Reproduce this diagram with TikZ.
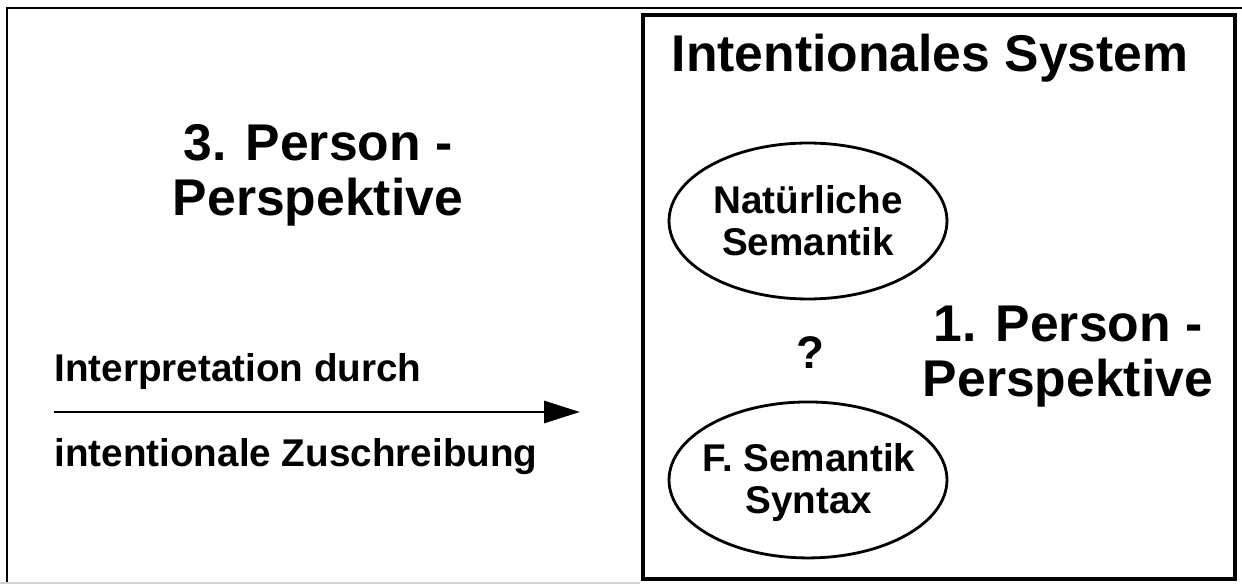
\documentclass[tikz,border=0pt]{standalone}
\usepackage{fontspec}
\setmainfont{Liberation Sans}
\usetikzlibrary{shapes.geometric,arrows.meta}

\begin{document}
\begin{tikzpicture}[x=0.02cm, y=-0.02cm, node distance=5.18cm,
  big label/.style={inner sep=0, align=center, font=\fontsize{29.4}{31.3}\selectfont\bfseries},
  small label/.style={inner sep=0, align=center, font=\fontsize{22}{23.9}\selectfont\bfseries},
  oval node/.style={draw, ellipse, line width=1.6pt, inner sep=0, minimum width=5.56cm, minimum height=3.12cm}]
\useasboundingbox (0,0) rectangle (1242,584);

% outer frame and system box
\draw[line width=1pt] (7,584) -- (7,8) -- (1242,8);
\draw[gray!35, line width=0.8pt] (0,583) -- (640,583);
\draw[line width=2.3pt] (643,15) rectangle (1235,579);

\node[big label] (thirdperson) at (318,175) {3. Person -\\Perspektive};
\node[big label] (system)      at (930,58)  {Intentionales System};
\node[big label] (firstperson) at (1068,357) {1. Person -\\Perspektive};

\node[oval node]              (natsem)  at (808,221) {};
\node[oval node, below of=natsem] (formsem) {};
\node[small label] at (natsem)  {Natürliche\\Semantik};
\node[small label] at (809,483) {F. Semantik\\Syntax};
\node[inner sep=0, font=\fontsize{26}{28}\selectfont\bfseries] (question) at (810,353) {?};

\node[small label, anchor=west] (interp)  at (54,372) {Interpretation durch};
\node[small label, anchor=west] (zuschr)  at (54,457) {intentionale Zuschreibung};

\coordinate (arrow start) at (54,412);
\coordinate (arrow end)   at (580,412);
\draw[line width=1.7pt, -{Triangle[length=0.72cm, width=0.44cm]}] (arrow start) -- (arrow end);
\end{tikzpicture}
\end{document}
